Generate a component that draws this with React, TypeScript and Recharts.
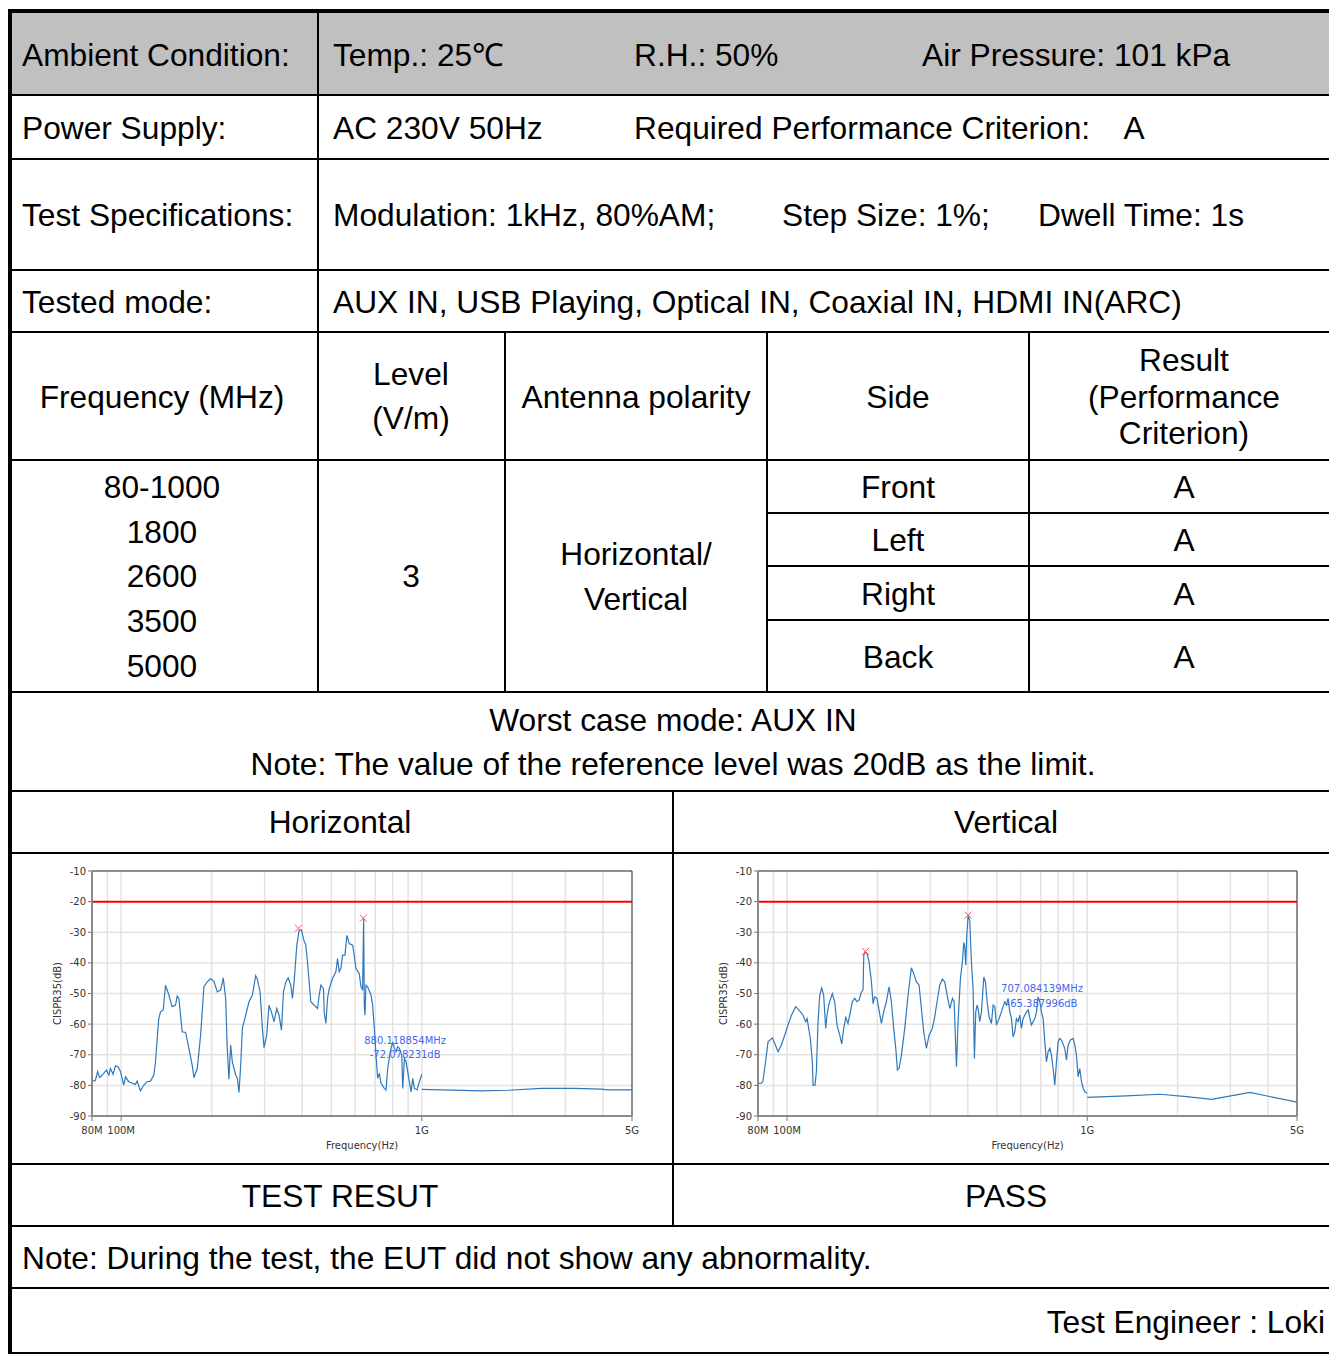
import React from 'react'
import { ComposedChart, Line, XAxis, YAxis, CartesianGrid, ReferenceLine, ReferenceDot } from 'recharts'

const FONT = '"Liberation Sans", Arial, sans-serif'
const CHART_FONT = '"DejaVu Sans", Verdana, sans-serif'

// Horizontal polarisation: 80M - 1G sweep (MHz / dB)
const hFreq = [
  80, 82.1, 83.5, 84.9, 87.5, 89.3, 91, 92.1, 94, 95.7, 97.7, 99.5, 102, 103.4, 106, 111.5, 113, 115.9, 119, 122,
  125.2, 128.5, 130.1, 131.8, 133.4, 135.2, 138, 140.5, 144.1, 147.8, 151.7, 153.6, 155.6, 159.6, 163.8, 168, 172.3,
  174.6, 179.1, 183.8, 188.5, 193.4, 198.4, 203.5, 208.8, 214.2, 218.6, 222.6, 225.4, 228.3, 231.3, 234.3, 240.4,
  243.5, 246.6, 249.8, 253, 259.5, 266.2, 273.2, 280.2, 283.8, 289.8, 295, 298.7, 304.9, 310.4, 316, 322.5, 329.2,
  335.2, 341.3, 346.6, 352.9, 359.3, 366.7, 371.3, 376.1, 383.9, 390.8, 397.8, 406.1, 411.3, 416.6, 427.4, 436.2,
  449.9, 455.7, 461.5, 471, 473.4, 479.6, 485.8, 492, 504.8, 517.8, 524.5, 531.3, 538.2, 545, 554.9, 563.5, 573.7,
  588.5, 596, 603.7, 619.4, 627.4, 635.4, 640.4, 643.7, 647, 651.9, 660.3, 677.4, 686.2, 695.1, 703.9, 713, 722.2,
  731.5, 750.5, 760.2, 769.9, 785.8, 800, 810.3, 820.7, 831.3, 842, 857.4, 864, 875.2, 886.5, 897.6, 909, 920.7,
  932.6, 944.7, 964, 981.5, 1000,
]
const hLevel = [
  -78.6, -78.4, -75.5, -77.5, -76.1, -75, -76.6, -74.5, -76.4, -73.6, -73.9, -75.5, -79.9, -77.2, -78.8, -79.7, -78.6,
  -81.8, -79.9, -78.8, -78.6, -76.6, -72.3, -64.7, -58.2, -56, -55.4, -47.3, -50.5, -54.3, -53.8, -50.8, -51.6, -62.5,
  -62.7, -67.9, -73.4, -77.5, -74.5, -63.6, -47.8, -46.2, -45.1, -46, -49.5, -48.9, -44.9, -51.6, -67.9, -78, -66.8,
  -72.3, -76.6, -77.7, -82.3, -73.4, -61.4, -57.1, -52.7, -50.5, -44.2, -45.3, -49.5, -61.4, -67.7, -63.6, -53.8, -56,
  -59.2, -54.9, -57.1, -62, -49.5, -46.2, -44.9, -47.3, -51.6, -46.2, -34.2, -29.3, -29.3, -32.9, -34.2, -39.7, -52.7,
  -53.6, -54.9, -50.5, -47.3, -48.4, -56, -59.8, -51.6, -48.4, -45.1, -42.9, -38.6, -42.9, -41.8, -37.5, -37.5, -31,
  -33.7, -34.2, -37.5, -41.8, -43.5, -47.8, -48.9, -25.5, -53.8, -57.1, -47.3, -47.8, -50.5, -53.8, -61.4, -70.1,
  -77.7, -76.1, -79.3, -81, -81.5, -74.5, -69, -65.8, -67.9, -69, -67.4, -67.9, -70.1, -81, -71.2, -72.3, -75.5,
  -78.8, -82.1, -77.7, -81, -81.5, -78.8, -76.4,
]
const hTailFreq = [1000, 1159, 1576, 1934, 2498, 3226, 3956, 4166, 5000]
const hTailLevel = [-81.3, -81.5, -81.8, -81.6, -81, -81, -81.2, -81.5, -81.5]
const hPeakFreq = [388.8, 638.4]
const hPeakLevel = [-28.7, -25.4]
const hMarkFreq = 880.118854
const hMarkLevel = -72.078231

// Vertical polarisation
const vFreq = [
  80, 82.1, 83.1, 84.2, 85.3, 86.4, 89.3, 91, 93.3, 95.7, 98.2, 100.7, 103.4, 106.8, 109.6, 113, 115.4, 116.6, 119.5,
  121.4, 122, 123.9, 125.2, 126.8, 128.5, 130.4, 132.4, 134.5, 135.8, 138, 141.5, 144.1, 146.7, 149.8, 152.1, 154.4,
  156.8, 159.6, 162.5, 165, 168, 171, 173.7, 176.9, 179.1, 180.1, 181.9, 184.7, 187.5, 191, 193.4, 195.8, 199.3,
  202.5, 206.1, 209.8, 214.2, 218.6, 222.6, 226.6, 230.2, 233.1, 236.1, 240.4, 246.6, 253, 259.5, 264.2, 269.7,
  275.3, 280.2, 285.3, 291.2, 297.2, 304.9, 310.4, 316, 322.5, 329.2, 335.2, 341.3, 348.5, 355.7, 360.2, 364.8,
  366.7, 371.3, 378, 383.9, 387.9, 390.8, 393.8, 396.9, 401, 406.1, 411.3, 416.6, 420.9, 425.2, 429.6, 433, 438.6,
  444.2, 452.3, 458.1, 463.9, 471, 479.6, 485.8, 492, 498.3, 508.6, 517.8, 524.5, 531.3, 538.2, 545, 552.2, 559.3,
  566.3, 573.7, 581, 588.5, 596, 603.7, 611.5, 627.4, 635.4, 651.9, 660.3, 669, 677.4, 686.2, 695.1, 703.9, 713,
  722.2, 731.5, 740.9, 750.5, 760.2, 769.9, 779.8, 789.8, 800, 810.3, 820.7, 842, 852.8, 864, 879.4, 897.6, 909,
  920.7, 932.6, 944.7, 956.9, 969.4, 981.5, 1000,
]
const vLevel = [
  -79.3, -79.3, -78.6, -74.5, -70.1, -65.8, -64.5, -66.3, -69, -66.8, -63.6, -60.3, -57.1, -54.3, -55.4, -57.1, -59.2,
  -58.2, -64.7, -72.3, -79.9, -79.9, -75.5, -59.2, -50.5, -48.2, -50.5, -61.4, -57.1, -53.3, -50, -52.7, -60.3, -63.6,
  -66.5, -61.4, -57.8, -59.8, -56, -52.7, -51.6, -52.7, -52.2, -49.5, -48.9, -37.5, -36.4, -37, -39.7, -46.2, -53.3,
  -51.1, -51.6, -55.4, -59.8, -56, -52.7, -47.8, -52.7, -61.4, -67.9, -75, -74.5, -70.1, -61.4, -50.5, -41.6, -43.5,
  -46.2, -47.3, -54.9, -62.5, -67.9, -63.6, -61.4, -57.6, -52.7, -47.3, -45.3, -46.2, -50.5, -54.9, -51.6, -52.7,
  -67.9, -73.9, -59.2, -45.1, -39.5, -33.4, -34.8, -40.8, -31, -24.7, -26.1, -39.7, -48.4, -71.2, -56, -53.8, -54.9,
  -59.2, -56, -44.6, -46.2, -52.7, -57.6, -59.8, -53.8, -54.3, -60.3, -58.2, -56, -54.3, -52.7, -53.8, -51.6, -56,
  -58.2, -64.1, -62.5, -58.2, -59.2, -57.1, -61.4, -58.2, -56, -55.4, -60.3, -59.2, -58.2, -56, -51.1, -52.7, -56,
  -58.2, -65.8, -72.3, -69, -67.9, -70.1, -74.5, -79.9, -72.3, -65.8, -64.7, -65.2, -67.9, -71.7, -66.8, -65.2, -64.7,
  -66.8, -70.1, -77.2, -74.5, -78.8, -81, -82.1, -82.6,
]
const vTailFreq = [1000, 1352, 1747, 2144, 2597, 3486, 5000]
const vTailLevel = [-83.9, -83.4, -82.9, -83.7, -84.6, -82.3, -85.5]
const vPeakFreq = [182.4, 400.9]
const vPeakLevel = [-36.3, -24.4]
const vMarkFreq = 707.084139
const vMarkLevel = -65.387996

const LIMIT_DB = -20
const yTicks = [-90, -80, -70, -60, -50, -40, -30, -20, -10]
const gridFreq = [80, 90, 100, 200, 300, 400, 500, 600, 700, 800, 900, 1000, 2000, 3000, 4000, 5000]
const freqLabels: Record<number, string> = { 80: '80M', 100: '100M', 1000: '1G', 5000: '5G' }

const toRows = (f: number[], l: number[]) => f.map((v, i) => ({ f: v, db: l[i] }))

const FreqTick = (props: any) => {
  const { x, y, payload } = props
  const label = freqLabels[payload.value]
  if (!label) return <g />
  return (
    <g>
      <line x1={x} x2={x} y1={y - 8} y2={y - 3} stroke="#777" />
      <text x={x} y={y + 3} dy="0.71em" textAnchor="middle" fontSize={10} fill="#333" fontFamily={CHART_FONT}>
        {label}
      </text>
    </g>
  )
}

const XMark = (props: any) => {
  const { cx, cy } = props
  return (
    <g stroke="#ff5a5a" strokeWidth={1}>
      <line x1={cx - 3.5} y1={cy - 3.5} x2={cx + 3.5} y2={cy + 3.5} />
      <line x1={cx - 3.5} y1={cy + 3.5} x2={cx + 3.5} y2={cy - 3.5} />
    </g>
  )
}

function Spectrum({ left, right, scan, tail, peakF, peakL, markF, markL, markDy }: any) {
  const scanRows = toRows(scan[0], scan[1])
  const tailRows = toRows(tail[0], tail[1])
  return (
    <div style={{ position: 'absolute', left, top: 858 }}>
      <ComposedChart width={620} height={300} margin={{ top: 13, right, bottom: 6, left: 17 }}>
        <CartesianGrid stroke="#e3e3e3" strokeWidth={1.5} />
        <XAxis
          dataKey="f"
          type="number"
          scale="log"
          domain={[80, 5000]}
          allowDataOverflow
          ticks={gridFreq}
          interval={0}
          tick={<FreqTick />}
          tickLine={false}
          tickSize={5}
          tickMargin={3}
          height={36}
          axisLine={{ stroke: '#8a8a8a', strokeWidth: 2 }}
          label={({ viewBox }: any) => (
            <text
              x={viewBox.x + viewBox.width / 2}
              y={viewBox.y + 29}
              textAnchor="middle"
              dominantBaseline="central"
              fontSize={10}
              fill="#333"
              fontFamily={CHART_FONT}
            >
              Frequency(Hz)
            </text>
          )}
        />
        <YAxis
          type="number"
          domain={[-90, -10]}
          ticks={yTicks}
          interval={0}
          width={45}
          tickSize={4}
          tickMargin={2}
          tick={{ fontSize: 10, fill: '#333', fontFamily: CHART_FONT }}
          tickLine={{ stroke: '#777' }}
          axisLine={{ stroke: '#8a8a8a', strokeWidth: 2 }}
          label={({ viewBox }: any) => {
            const cx = viewBox.x + 10.3
            const cy = viewBox.y + viewBox.height / 2
            return (
              <text
                x={cx}
                y={cy}
                transform={`rotate(-90 ${cx} ${cy})`}
                textAnchor="middle"
                dominantBaseline="central"
                fontSize={10}
                fill="#3a3030"
                fontFamily={CHART_FONT}
              >
                CISPR35(dB)
              </text>
            )
          }}
        />
        <ReferenceLine y={-10} stroke="#333" strokeWidth={1} />
        <ReferenceLine x={5000} stroke="#333" strokeWidth={1} />
        <ReferenceLine y={LIMIT_DB} stroke="#ff0000" strokeWidth={2} />
        <Line data={scanRows} dataKey="db" stroke="#2f78bd" strokeWidth={1.2} dot={false} isAnimationActive={false} />
        <Line data={tailRows} dataKey="db" stroke="#2f78bd" strokeWidth={1.2} dot={false} isAnimationActive={false} />
        {peakF.map((f: number, i: number) => (
          <ReferenceDot key={f} x={f} y={peakL[i]} r={4} shape={<XMark />} />
        ))}
        <ReferenceDot
          x={markF}
          y={markL}
          r={0}
          shape={(p: any) => (
            <g fontSize={10} fill="#4466ee" fontFamily={CHART_FONT} textAnchor="middle">
              <text x={p.cx} y={p.cy + markDy[0]}>{`${markF}MHz`}</text>
              <text x={p.cx} y={p.cy + markDy[1]}>{`${markL}dB`}</text>
            </g>
          )}
        />
      </ComposedChart>
    </div>
  )
}

const HLine = ({ x1 = 8, x2 = 1329, y, w = 1.3 }: any) => (
  <div style={{ position: 'absolute', left: x1, top: y - w / 2, width: x2 - x1, height: w, background: '#000' }} />
)
const VLine = ({ x, y1, y2, w = 1.3 }: any) => (
  <div style={{ position: 'absolute', left: x - w / 2, top: y1, width: w, height: y2 - y1, background: '#000' }} />
)
const Txt = ({ x, y, align = 'left', children }: any) => (
  <div
    style={{
      position: 'absolute',
      left: x,
      top: y - 20,
      lineHeight: '40px',
      whiteSpace: 'nowrap',
      transform: align === 'center' ? 'translateX(-50%)' : align === 'right' ? 'translateX(-100%)' : undefined,
    }}
  >
    {children}
  </div>
)

export default function App() {
  const freqs = ['80-1000', '1800', '2600', '3500', '5000']
  const freqY = [487, 532, 576, 621, 666]
  const sides = ['Front', 'Left', 'Right', 'Back']
  const sideY = [487, 540, 594, 657]
  return (
    <div
      style={{
        position: 'absolute',
        left: 0,
        top: 0,
        width: 1329,
        height: 1354,
        overflow: 'hidden',
        background: '#fff',
        fontFamily: FONT,
        fontSize: 31.7,
        color: '#000',
      }}
    >
      <div style={{ position: 'absolute', left: 11, top: 13, width: 1318, height: 82, background: '#c0c0c0' }} />
      <div style={{ position: 'absolute', left: 8, top: 9, width: 1321, height: 4, background: '#000' }} />
      <div style={{ position: 'absolute', left: 8, top: 9, width: 3.5, height: 1345, background: '#000' }} />

      {[95, 159, 270, 332, 460, 692, 791, 853, 1164, 1226, 1288, 1353].map(y => (
        <HLine key={y} y={y} />
      ))}
      {[513, 566, 620].map(y => (
        <HLine key={y} x1={767} y={y} />
      ))}
      <VLine x={318} y1={13} y2={692} />
      <VLine x={505} y1={332} y2={692} />
      <VLine x={767} y1={332} y2={692} />
      <VLine x={1029} y1={332} y2={692} />
      <VLine x={673} y1={791} y2={1226} />

      <Txt x={22} y={55}>Ambient Condition:</Txt>
      <Txt x={333} y={55}>Temp.: 25℃</Txt>
      <Txt x={634} y={55}>R.H.: 50%</Txt>
      <Txt x={922} y={55}>Air Pressure: 101 kPa</Txt>

      <Txt x={22} y={128}>Power Supply:</Txt>
      <Txt x={333} y={128}>AC 230V 50Hz</Txt>
      <Txt x={634} y={128}>Required Performance Criterion:&nbsp;&nbsp;&nbsp; A</Txt>

      <Txt x={22} y={215}>Test Specifications:</Txt>
      <Txt x={333} y={215}>Modulation: 1kHz, 80%AM;</Txt>
      <Txt x={782} y={215}>Step Size: 1%;</Txt>
      <Txt x={1038} y={215}>Dwell Time: 1s</Txt>

      <Txt x={22} y={302}>Tested mode:</Txt>
      <Txt x={333} y={302}>AUX IN, USB Playing, Optical IN, Coaxial IN, HDMI IN(ARC)</Txt>

      <Txt x={162} y={397} align="center">Frequency (MHz)</Txt>
      <Txt x={411} y={374} align="center">Level</Txt>
      <Txt x={411} y={418} align="center">(V/m)</Txt>
      <Txt x={636} y={397} align="center">Antenna polarity</Txt>
      <Txt x={898} y={397} align="center">Side</Txt>
      <Txt x={1184} y={360} align="center">Result</Txt>
      <Txt x={1184} y={397} align="center">(Performance</Txt>
      <Txt x={1184} y={433} align="center">Criterion)</Txt>

      {freqs.map((f, i) => (
        <Txt key={f} x={162} y={freqY[i]} align="center">{f}</Txt>
      ))}
      <Txt x={411} y={576} align="center">3</Txt>
      <Txt x={636} y={554} align="center">Horizontal/</Txt>
      <Txt x={636} y={599} align="center">Vertical</Txt>
      {sides.map((s, i) => (
        <React.Fragment key={s}>
          <Txt x={898} y={sideY[i]} align="center">{s}</Txt>
          <Txt x={1184} y={sideY[i]} align="center">A</Txt>
        </React.Fragment>
      ))}

      <Txt x={673} y={720} align="center">Worst case mode: AUX IN</Txt>
      <Txt x={673} y={764} align="center">Note: The value of the reference level was 20dB as the limit.</Txt>
      <Txt x={340} y={822} align="center">Horizontal</Txt>
      <Txt x={1006} y={822} align="center">Vertical</Txt>

      <Spectrum
        left={29.7}
        right={18}
        scan={[hFreq, hLevel]}
        tail={[hTailFreq, hTailLevel]}
        peakF={hPeakFreq}
        peakL={hPeakLevel}
        markF={hMarkFreq}
        markL={hMarkLevel}
        markDy={[-17.6, -3.6]}
      />
      <Spectrum
        left={696.3}
        right={19}
        scan={[vFreq, vLevel]}
        tail={[vTailFreq, vTailLevel]}
        peakF={vPeakFreq}
        peakL={vPeakLevel}
        markF={vMarkFreq}
        markL={vMarkLevel}
        markDy={[-48.8, -33.4]}
      />

      <Txt x={340} y={1196} align="center">TEST RESUT</Txt>
      <Txt x={1006} y={1196} align="center">PASS</Txt>
      <Txt x={22} y={1258}>Note: During the test, the EUT did not show any abnormality.</Txt>
      <Txt x={1325} y={1322} align="right">Test Engineer : Loki</Txt>
    </div>
  )
}
